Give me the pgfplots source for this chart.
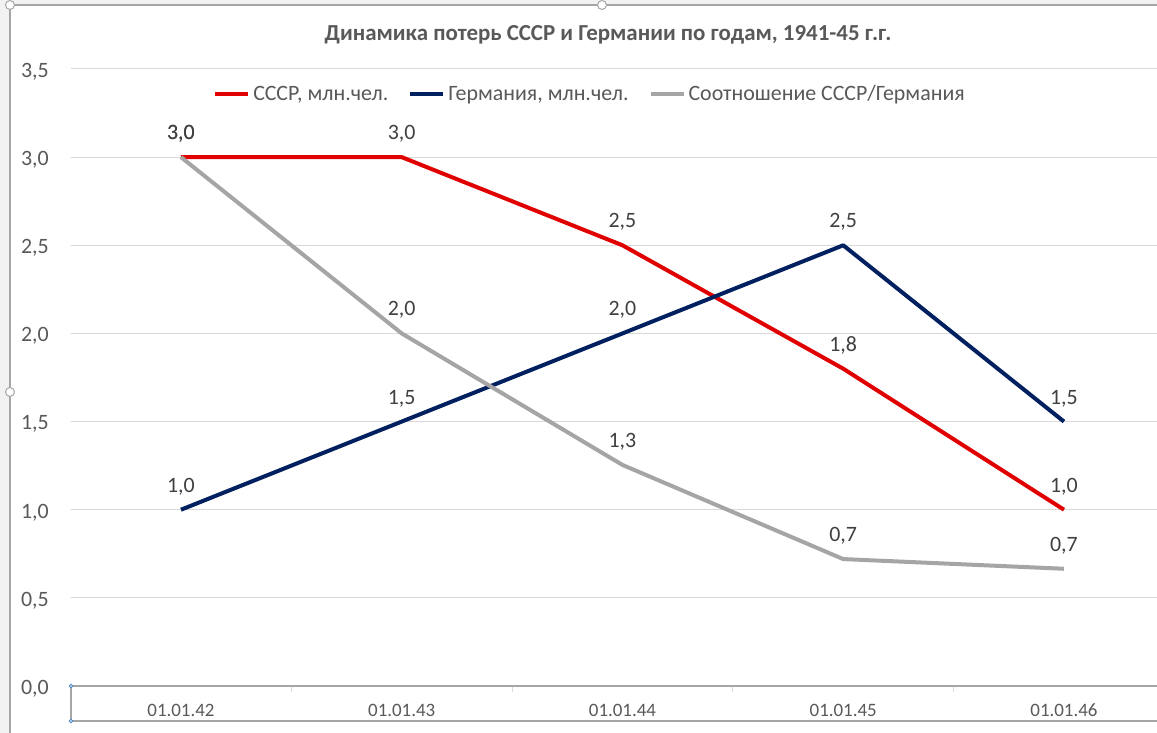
\documentclass[border=0pt]{standalone}
\usepackage{pgfplots}
\pgfplotsset{compat=1.18}
\usepackage{fontspec}
\setmainfont{Carlito}
\definecolor{ussr}{HTML}{E00000}
\definecolor{ger}{HTML}{002060}
\definecolor{ratio}{HTML}{A5A5A5}
\definecolor{txt}{HTML}{595959}
\definecolor{lbl}{HTML}{404040}
\definecolor{gridc}{HTML}{D9D9D9}
\definecolor{framec}{HTML}{A6A6A6}
\definecolor{outside}{HTML}{F2F2F2}
\definecolor{handle}{HTML}{4A86C8}
\begin{document}
\begin{tikzpicture}[x=1bp,y=1bp]
\useasboundingbox (0bp,0bp) rectangle (1157bp,733bp);
\fill[outside] (0bp,0bp) rectangle (1157bp,733bp);
\fill[white] (10bp,0bp) rectangle (1157bp,728bp);
\begin{scope}
\clip (10bp,0bp) rectangle (1157bp,728bp);
\begin{axis}[
  scale only axis,
  width=1103.75bp, height=617bp,
  at={(70.6bp,47bp)}, anchor=south west,
  xmin=-0.5, xmax=4.5, ymin=0, ymax=3.5,
  xtick={0,1,2,3,4},
  xticklabels={01.01.42,01.01.43,01.01.44,01.01.45,01.01.46},
  minor xtick={0.5,1.5,2.5,3.5},
  ytick={0,0.5,1,1.5,2,2.5,3,3.5},
  axis lines*=left,
  y axis line style={draw=none},
  x axis line style={draw=framec, line width=1.4bp},
  major tick length=0pt,
  minor tick length=6bp,
  tick align=outside,
  major tick style={draw=none},
  minor tick style={draw=gridc, line width=1bp},
  ymajorgrids,
  grid style={draw=gridc, line width=1bp},
  /pgf/number format/fixed,
  /pgf/number format/fixed zerofill,
  /pgf/number format/precision=1,
  /pgf/number format/use comma,
  /pgf/number format/assume math mode=true,
  yticklabel style={anchor=base east, inner sep=0pt, xshift=-21.6bp, yshift=-8.3bp, font=\fontsize{22}{22}\selectfont, text=txt},
  xticklabel style={anchor=base, inner sep=0pt, yshift=-30.7bp, font=\fontsize{19}{19}\selectfont, text=txt},
  legend style={at={(0.4697,0.9595)}, anchor=center, draw=none, fill=none,
    font=\fontsize{22}{22}\selectfont, text=txt, nodes={inner sep=0pt},
    /tikz/every odd column/.style={column sep=3bp},
    /tikz/every even column/.style={column sep=20bp}},
  legend columns=3,
  legend image code/.code={\draw[#1, line width=4bp] (0bp,0bp) -- (33bp,0bp);},
  nodes near coords,
  every node near coord/.append style={anchor=base, inner sep=0pt, yshift=17.5bp, font=\fontsize{22}{22}\selectfont, text=lbl},
  clip=false,
]
\addplot[ussr, line width=4bp, line join=round, mark=none] coordinates {(0,3.0) (1,3.0) (2,2.5) (3,1.8) (4,1.0)};
\addlegendentry{СССР, млн.чел.}
\addplot[ger, line width=4bp, line join=round, mark=none] coordinates {(0,1.0) (1,1.5) (2,2.0) (3,2.5) (4,1.5)};
\addlegendentry{Германия, млн.чел.}
\addplot[ratio, line width=4bp, line join=round, mark=none] coordinates {(0,3.0) (1,2.0) (2,1.254) (3,0.72) (4,0.665)};
\addlegendentry{Соотношение СССР/Германия}
\end{axis}
\draw[framec, line width=1.4bp] (71bp,12bp) -- (1157bp,12bp);
\draw[framec, line width=1.4bp] (71bp,12bp) -- (71bp,47bp);
\draw[handle, fill=white, line width=0.8bp] (71bp,47bp) circle (1.8bp);
\draw[handle, fill=white, line width=0.8bp] (71bp,12bp) circle (1.8bp);
\end{scope}
\node[font=\bfseries\fontsize{23}{23}\selectfont, text=txt, anchor=base, inner sep=0pt] at (608bp,692.5bp) {Динамика потерь СССР и Германии по годам, 1941-45 г.г.};
\draw[framec, line width=1.4bp] (10bp,0bp) -- (10bp,728bp) -- (1157bp,728bp);
\draw[framec, fill=white, line width=1bp] (10bp,728bp) circle (4.5bp);
\draw[framec, fill=white, line width=1bp] (602bp,728bp) circle (4.5bp);
\draw[framec, fill=white, line width=1bp] (10bp,341bp) circle (4.5bp);
\end{tikzpicture}
\end{document}
